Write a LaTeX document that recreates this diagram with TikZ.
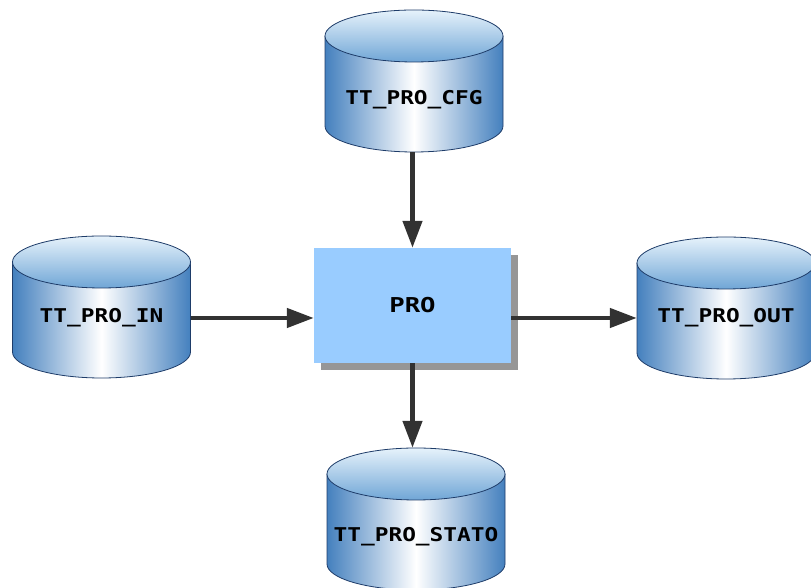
\documentclass[tikz,border=0pt]{standalone}
\usepackage{fontspec}
\usetikzlibrary{arrows.meta,shadows}
\newfontfamily\lblfont{DejaVu Sans Mono Bold}

\definecolor{cylside}{RGB}{68,128,190}
\definecolor{cyltopA}{RGB}{230,242,251}
\definecolor{cyltopB}{RGB}{112,166,214}
\definecolor{cylline}{RGB}{30,60,105}
\definecolor{procolor}{RGB}{153,204,255}
\definecolor{shadowgray}{RGB}{150,150,150}
\definecolor{arrowgray}{RGB}{50,50,50}

\tikzset{
  lbl/.style={font=\lblfont\fontsize{19pt}{19pt}\selectfont, inner sep=0pt, minimum width=178pt},
  probox/.style={fill=procolor, minimum width=197pt, minimum height=115pt, inner sep=0pt,
    font=\lblfont\fontsize{20.5pt}{20.5pt}\selectfont,
    drop shadow={shadow xshift=7pt, shadow yshift=-7pt, fill=shadowgray, opacity=1}},
  arr/.style={draw=arrowgray, line width=4.5pt, -{Triangle[length=27pt,width=19pt]}},
  cylout/.style={draw=cylline, line width=0.8pt},
}

% database cylinder: #1 name, #2 centre x, #3 y of top ellipse centre, #4 label, #5 label y
\newcommand\dbcylinder[5]{%
  \pgfmathsetmacro\cylB{#3-90}%
  \shade[left color=cylside, right color=cylside, middle color=white]
    (#2-89,#3) -- (#2-89,\cylB) arc[start angle=180, end angle=360, x radius=89, y radius=26]
    -- (#2+89,#3) -- cycle;
  \draw[cylout] (#2-89,#3) -- (#2-89,\cylB)
    arc[start angle=180, end angle=360, x radius=89, y radius=26] -- (#2+89,#3);
  \shade[top color=cyltopA, bottom color=cyltopB] (#2,#3) ellipse[x radius=89, y radius=26];
  \draw[cylout] (#2,#3) ellipse[x radius=89, y radius=26];
  \node[inner sep=0pt, minimum width=178pt, minimum height=142pt] (#1) at (#2,#3-45) {};
  \node[lbl] (#1-text) at (#2,#5) {\scalebox{1.2}[1]{#4}};
}

\begin{document}
\begin{tikzpicture}[x=1pt, y=1pt]
  \useasboundingbox (0,0) rectangle (811,588);

  \dbcylinder{cfg}{414}{552}{TT\_PRO\_CFG}{488}
  \dbcylinder{in}{101.5}{326}{TT\_PRO\_IN}{270}
  \dbcylinder{out}{726}{325}{TT\_PRO\_OUT}{270}
  \dbcylinder{stato}{416}{114}{TT\_PRO\_STATO}{51}

  \node[probox] (pro) at (412.5,282.5) {\scalebox{1.25}[1]{PRO}};

  \draw[arr] (cfg.south -| pro.north) -- (pro.north);
  \draw[arr] (in.east |- in-text) -- (pro.west |- in-text);
  \draw[arr] (pro.east |- out-text) -- (out.west |- out-text);
  \draw[arr] (pro.south) -- (pro.south |- stato.north);
\end{tikzpicture}
\end{document}
